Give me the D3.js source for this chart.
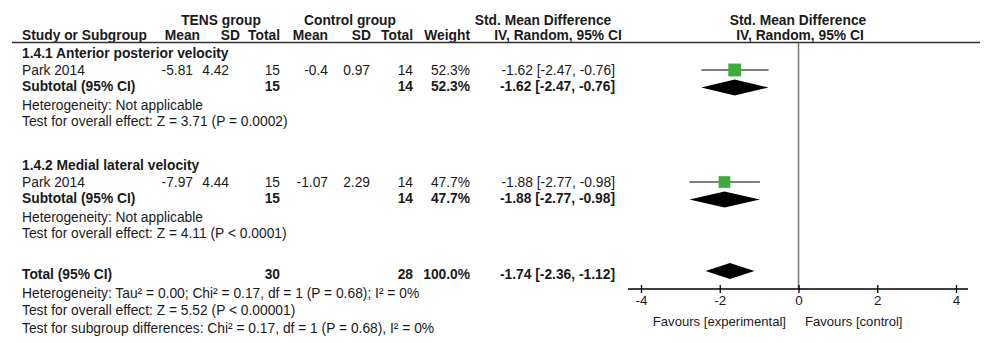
<!DOCTYPE html>
<html>
<head>
<meta charset="utf-8">
<script src="https://cdn.jsdelivr.net/npm/d3@7"></script>
<style>
	body { margin: 0; background: #ffffff; }
	text { font-family: 'Liberation Sans', Arial, sans-serif; font-size: 13.8px; fill: #1a1a1a; }
	.b { font-weight: bold; }
</style>
</head>
<body>
<div id="forest"></div>
<script>
// data
const subgroupNames = ['1.4.1 Anterior posterior velocity', '1.4.2 Medial lateral velocity'];
const studyNames = ['Park 2014', 'Park 2014'];
const tensMean = [-5.81, -7.97];
const tensSD = [4.42, 4.44];
const tensTotal = [15, 15];
const ctrlMean = [-0.4, -1.07];
const ctrlSD = [0.97, 2.29];
const ctrlTotal = [14, 14];
const weights = [52.3, 47.7];
const smd = [-1.62, -1.88];
const ciLow = [-2.47, -2.77];
const ciHigh = [-0.76, -0.98];
const subHeterogeneity = ['Heterogeneity: Not applicable', 'Heterogeneity: Not applicable'];
const subOverall = ['Test for overall effect: Z = 3.71 (P = 0.0002)', 'Test for overall effect: Z = 4.11 (P < 0.0001)'];

const totalTens = 30;
const totalCtrl = 28;
const totalWeight = 100.0;
const totalSmd = -1.74;
const totalLow = -2.36;
const totalHigh = -1.12;
const totalNotes = [
	'Heterogeneity: Tau² = 0.00; Chi² = 0.17, df = 1 (P = 0.68); I² = 0%',
	'Test for overall effect: Z = 5.52 (P < 0.00001)',
	'Test for subgroup differences: Chi² = 0.17, df = 1 (P = 0.68), I² = 0%'
];

const axisTicks = [-4, -2, 0, 2, 4];
const favourLabels = ['Favours [experimental]', 'Favours [control]'];

// layout
const width = 987, height = 343;
const blockTop = [57.5, 169.5];
const colRight = {tMean: 193, tSD: 229, tN: 280, cMean: 328, cSD: 370, cN: 413, w: 470, ci: 615};
const axisY = 289;

const fmtCI = (m, lo, hi) => `${m.toFixed(2)} [${lo.toFixed(2)}, ${hi.toFixed(2)}]`;

let svg = d3.select('#forest').append('svg')
	.attr('width', width)
	.attr('height', height);

let x = d3.scaleLinear()
	.domain([-4, 4])
	.range([641, 956]);

function txt(xp, yp, s, anchor, bold)
{
	return svg.append('text')
		.attr('x', xp)
		.attr('y', yp)
		.attr('text-anchor', anchor || 'start')
		.attr('class', bold ? 'b' : null)
		.text(s);
}

// headers
txt(221, 25, 'TENS group', 'middle', true);
txt(350, 25, 'Control group', 'middle', true);
txt(543, 25, 'Std. Mean Difference', 'middle', true);
txt(798, 25, 'Std. Mean Difference', 'middle', true);

txt(22, 39.5, 'Study or Subgroup', 'start', true);
txt(200, 39.5, 'Mean', 'end', true);
txt(240, 39.5, 'SD', 'end', true);
txt(280, 39.5, 'Total', 'end', true);
txt(328, 39.5, 'Mean', 'end', true);
txt(371, 39.5, 'SD', 'end', true);
txt(413, 39.5, 'Total', 'end', true);
txt(470, 39.5, 'Weight', 'end', true);
txt(558, 39.5, 'IV, Random, 95% CI', 'middle', true);
txt(800, 39.5, 'IV, Random, 95% CI', 'middle', true);

svg.append('line')
	.attr('x1', 12).attr('x2', 980)
	.attr('y1', 42.5).attr('y2', 42.5)
	.style('stroke', '#333333')
	.style('stroke-width', 1.4);

// zero line
svg.append('line')
	.attr('x1', x(0)).attr('x2', x(0))
	.attr('y1', 43).attr('y2', axisY)
	.style('stroke', '#777777')
	.style('stroke-width', 1.5);

function diamond(yc, m, lo, hi)
{
	let h = 8;
	svg.append('path')
		.attr('d', `M${x(lo)},${yc} L${x(m)},${yc - h} L${x(hi)},${yc} L${x(m)},${yc + h} Z`)
		.style('fill', '#000000');
}

for(let i = 0; i < subgroupNames.length; i++)
{
	let y0 = blockTop[i];
	let yStudy = y0 + 17.5;
	let ySub = y0 + 33.5;

	txt(22, y0, subgroupNames[i], 'start', true);

	txt(22, yStudy, studyNames[i]);
	txt(colRight.tMean, yStudy, String(tensMean[i]), 'end');
	txt(colRight.tSD, yStudy, String(tensSD[i]), 'end');
	txt(colRight.tN, yStudy, String(tensTotal[i]), 'end');
	txt(colRight.cMean, yStudy, String(ctrlMean[i]), 'end');
	txt(colRight.cSD, yStudy, String(ctrlSD[i]), 'end');
	txt(colRight.cN, yStudy, String(ctrlTotal[i]), 'end');
	txt(colRight.w, yStudy, weights[i].toFixed(1) + '%', 'end');
	txt(colRight.ci, yStudy, fmtCI(smd[i], ciLow[i], ciHigh[i]), 'end');

	txt(22, ySub, 'Subtotal (95% CI)', 'start', true);
	txt(colRight.tN, ySub, String(tensTotal[i]), 'end', true);
	txt(colRight.cN, ySub, String(ctrlTotal[i]), 'end', true);
	txt(colRight.w, ySub, weights[i].toFixed(1) + '%', 'end', true);
	txt(colRight.ci, ySub, fmtCI(smd[i], ciLow[i], ciHigh[i]), 'end', true);

	txt(22, y0 + 52.5, subHeterogeneity[i]);
	txt(22, y0 + 68, subOverall[i]);

	// study CI + square
	let yc = yStudy - 5;
	svg.append('line')
		.attr('x1', x(ciLow[i])).attr('x2', x(ciHigh[i]))
		.attr('y1', yc).attr('y2', yc)
		.style('stroke', '#555555')
		.style('stroke-width', 1.5);

	let s = weights[i] * 0.245;
	svg.append('rect')
		.attr('x', x(smd[i]) - s / 2)
		.attr('y', yc - s / 2)
		.attr('width', s)
		.attr('height', s)
		.style('fill', '#3fab3f');

	diamond(ySub - 3.5, smd[i], ciLow[i], ciHigh[i]);
}

// total
txt(22, 279, 'Total (95% CI)', 'start', true);
txt(colRight.tN, 279, String(totalTens), 'end', true);
txt(colRight.cN, 279, String(totalCtrl), 'end', true);
txt(colRight.w, 279, totalWeight.toFixed(1) + '%', 'end', true);
txt(colRight.ci, 279, fmtCI(totalSmd, totalLow, totalHigh), 'end', true);
diamond(271, totalSmd, totalLow, totalHigh);

txt(22, 298, totalNotes[0]);
txt(22, 315, totalNotes[1]);
txt(22, 333, totalNotes[2]);

// axis
let xAxis = d3.axisBottom(x)
	.tickValues(axisTicks)
	.tickFormat(d => String(d))
	.tickSizeOuter(0);

let ax = svg.append('g')
	.attr('transform', `translate(0, ${axisY})`)
	.call(xAxis);

ax.select('.domain').remove();
ax.selectAll('.tick line')
	.attr('y1', -4)
	.attr('y2', 4)
	.style('stroke', '#000000')
	.style('stroke-width', 1.3);
ax.selectAll('.tick text')
	.attr('y', 6.5)
	.attr('font-family', null)
	.attr('font-size', null)
	.style('font-size', '13.4px');

svg.append('line')
	.attr('x1', x(-4) - 13).attr('x2', x(4) + 12)
	.attr('y1', axisY).attr('y2', axisY)
	.style('stroke', '#000000')
	.style('stroke-width', 1.4);

txt(786, 325.5, favourLabels[0], 'end').style('font-size', '13.1px');
txt(805, 325.5, favourLabels[1], 'start').style('font-size', '13.1px');
</script>
</body>
</html>
